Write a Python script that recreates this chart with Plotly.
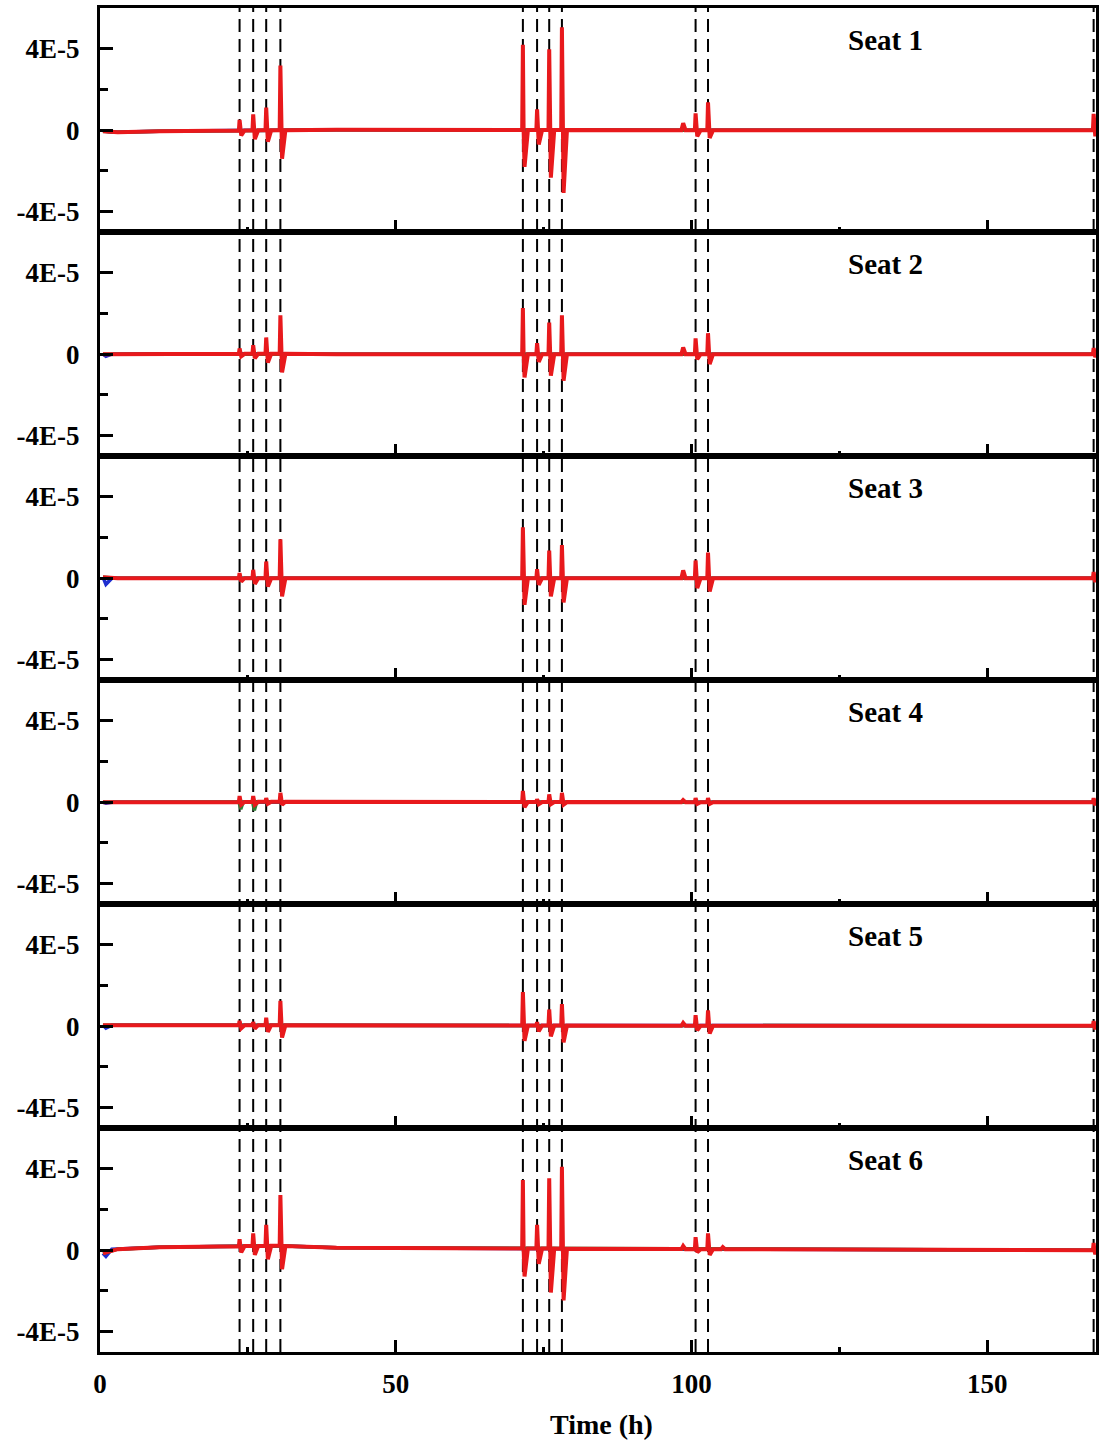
import numpy as np
import plotly.graph_objects as go
from plotly.subplots import make_subplots

# ---------------------------------------------------------------------------
# Data (amplitudes in units of 1E-5)
# ---------------------------------------------------------------------------
SEATS = ["Seat 1", "Seat 2", "Seat 3", "Seat 4", "Seat 5", "Seat 6"]

# loading events (h) – also marked with dashed vertical lines
EVENT_H = [23.6, 25.9, 28.1, 30.5, 71.5, 73.9, 75.95, 78.1, 100.7, 102.8, 168.0]

# positive peak / negative trough of the red signal at each event
SEAT1_PEAK = [0.50, 0.78, 1.11, 3.18, 4.20, 1.02, 3.97, 5.05, 0.83, 1.37, 0.80]
SEAT1_TROUGH = [-0.26, -0.44, -0.56, -1.40, -1.80, -0.70, -2.33, -3.08, -0.30, -0.38, -0.30]
SEAT2_PEAK = [0.28, 0.44, 0.82, 1.91, 2.27, 0.54, 1.55, 1.91, 0.78, 1.03, 0.30]
SEAT2_TROUGH = [-0.10, -0.20, -0.41, -0.90, -1.14, -0.38, -1.06, -1.30, -0.25, -0.49, -0.15]
SEAT3_PEAK = [0.25, 0.41, 0.82, 1.91, 2.50, 0.44, 1.36, 1.63, 0.87, 1.26, 0.30]
SEAT3_TROUGH = [-0.16, -0.28, -0.41, -0.90, -1.31, -0.33, -0.90, -1.19, -0.49, -0.65, -0.20]
SEAT4_PEAK = [0.30, 0.30, 0.20, 0.46, 0.55, 0.15, 0.38, 0.46, 0.20, 0.20, 0.20]
SEAT4_TROUGH = [-0.12, -0.12, -0.08, -0.12, -0.25, -0.10, -0.10, -0.12, -0.08, -0.08, -0.15]
SEAT5_PEAK = [0.26, 0.20, 0.42, 1.24, 1.68, 0.20, 0.82, 1.08, 0.54, 0.78, 0.25]
SEAT5_TROUGH = [-0.10, -0.12, -0.28, -0.56, -0.72, -0.25, -0.50, -0.80, -0.20, -0.36, -0.15]
SEAT6_PEAK = [0.54, 0.83, 1.24, 2.71, 3.45, 1.24, 3.53, 4.10, 0.64, 0.83, 0.35]
SEAT6_TROUGH = [-0.11, -0.23, -0.44, -0.93, -1.29, -0.67, -2.08, -2.47, -0.10, -0.23, -0.20]

# small isolated bumps between events (time h, amplitude)
BUMP_H = [98.6, 105.3]
SEAT1_BUMP = [0.34, 0.0]
SEAT2_BUMP = [0.33, 0.0]
SEAT3_BUMP = [0.38, 0.0]
SEAT4_BUMP = [0.10, 0.0]
SEAT5_BUMP = [0.16, 0.0]
SEAT6_BUMP = [0.21, 0.15]

# slow baseline drift of the signal
BASE_H = [0.5, 3.0, 10.0, 30.0, 40.0, 100.0, 168.4]
SEAT1_BASE = [-0.05, -0.10, -0.05, 0.00, 0.02, 0.00, 0.00]
SEAT2_BASE = [0.00, 0.00, 0.02, 0.02, 0.00, 0.00, 0.00]
SEAT3_BASE = [0.05, 0.00, 0.00, 0.00, 0.00, 0.00, 0.00]
SEAT4_BASE = [0.00, 0.00, 0.00, 0.02, 0.02, 0.00, 0.00]
SEAT5_BASE = [0.05, 0.05, 0.05, 0.05, 0.05, 0.02, 0.02]
SEAT6_BASE = [-0.15, 0.05, 0.15, 0.22, 0.12, 0.05, 0.00]

# secondary channels (mostly hidden under the red one)
BLUE_START = [-0.05, -0.10, -0.30, -0.05, -0.10, -0.30]
GREEN_SEAT4_DIP_H = [23.6, 25.9]
GREEN_SEAT4_DIP = [-0.34, -0.40]

UNIT = 1e-5
X_MAX = 168.4

PEAKS = [SEAT1_PEAK, SEAT2_PEAK, SEAT3_PEAK, SEAT4_PEAK, SEAT5_PEAK, SEAT6_PEAK]
TROUGHS = [SEAT1_TROUGH, SEAT2_TROUGH, SEAT3_TROUGH, SEAT4_TROUGH, SEAT5_TROUGH, SEAT6_TROUGH]
BUMPS = [SEAT1_BUMP, SEAT2_BUMP, SEAT3_BUMP, SEAT4_BUMP, SEAT5_BUMP, SEAT6_BUMP]
BASES = [SEAT1_BASE, SEAT2_BASE, SEAT3_BASE, SEAT4_BASE, SEAT5_BASE, SEAT6_BASE]


def build_signal(base, peaks, troughs, bumps):
    """Assemble a polyline: baseline drift plus a sharp up/down pulse per event."""
    pts = list(zip(BASE_H, base))
    for t, p, q in zip(EVENT_H, peaks, troughs):
        pts += [(t - 0.12, None), (t, p), (t + 0.12, None), (t + 0.28, q), (t + 0.85, None)]
    for t, a in zip(BUMP_H, bumps):
        if a:
            pts += [(t - 0.3, None), (t, a), (t + 0.4, None)]
    pts.sort(key=lambda v: v[0])
    xs = np.array([v[0] for v in pts])
    ys = np.array([np.interp(v[0], BASE_H, base) if v[1] is None else v[1] for v in pts])
    return xs, ys * UNIT


fig = make_subplots(rows=6, cols=1, shared_xaxes=True, vertical_spacing=0)

for i in range(6):
    row = i + 1
    base = BASES[i]
    # blue channel
    bx = [BASE_H[0], 1.0, 2.0] + BASE_H[2:]
    by = [base[0], BLUE_START[i], base[1]] + base[2:]
    fig.add_trace(go.Scatter(x=bx, y=np.array(by) * UNIT, mode="lines",
                             line=dict(color="#1f2fd0", width=3.5),
                             showlegend=False, hoverinfo="skip"), row=row, col=1)
    # green channel
    gx, gy = list(BASE_H), list(base)
    if i == 3:
        for t, d in zip(GREEN_SEAT4_DIP_H, GREEN_SEAT4_DIP):
            gx += [t - 0.1, t + 0.2, t + 0.6]
            gy += [np.interp(t - 0.1, BASE_H, base), d, np.interp(t + 0.6, BASE_H, base)]
    order = np.argsort(gx)
    fig.add_trace(go.Scatter(x=np.array(gx)[order], y=np.array(gy)[order] * UNIT, mode="lines",
                             line=dict(color="#2e7d32", width=3.5),
                             showlegend=False, hoverinfo="skip"), row=row, col=1)
    # red channel
    rx, ry = build_signal(base, PEAKS[i], TROUGHS[i], BUMPS[i])
    fig.add_trace(go.Scatter(x=rx, y=ry, mode="lines",
                             line=dict(color="#e8191c", width=4),
                             showlegend=False, hoverinfo="skip"), row=row, col=1)

FONT = "Liberation Serif, Times New Roman, serif"

for i in range(6):
    row = i + 1
    fig.update_yaxes(
        row=row, col=1, range=[-5 * UNIT, 6 * UNIT],
        tickmode="array", tickvals=[-4 * UNIT, 0, 4 * UNIT], ticktext=["-4E-5", "0", "4E-5"],
        ticks="inside", ticklen=13, tickwidth=3, tickcolor="black",
        minor=dict(tickmode="array", tickvals=[-2 * UNIT, 2 * UNIT], ticks="inside",
                   ticklen=8, tickwidth=3, tickcolor="black"),
        showline=True, linewidth=3, linecolor="black", mirror=True,
        showgrid=False, zeroline=False, ticklabelstandoff=12,
        tickfont=dict(family=FONT, size=27, color="black", weight="bold"),
    )
    fig.update_xaxes(
        row=row, col=1, range=[0, X_MAX],
        tickmode="array", tickvals=[0, 50, 100, 150],
        ticks="inside", ticklen=12, tickwidth=3, tickcolor="black",
        minor=dict(tickmode="array", tickvals=[25, 75, 125], ticks="inside",
                   ticklen=5, tickwidth=3, tickcolor="black"),
        showline=True, linewidth=3, linecolor="black", mirror=True,
        showgrid=False, zeroline=False,
        showticklabels=(row == 6), ticklabelstandoff=6,
        tickfont=dict(family=FONT, size=27, color="black", weight="bold"),
    )
    yref = "y domain" if row == 1 else f"y{row} domain"
    xref = "x domain" if row == 1 else f"x{row} domain"
    fig.add_annotation(text=SEATS[i], xref=xref, yref=yref, x=0.789, y=0.855,
                       xanchor="center", yanchor="middle", showarrow=False,
                       font=dict(family=FONT, size=29, color="black", weight="bold"))

# dashed event markers spanning every panel
for t in EVENT_H:
    fig.add_shape(type="line", xref="x6", yref="paper", x0=t, x1=t, y0=0, y1=1,
                  line=dict(color="black", width=2, dash="13px,7px"), layer="below")

fig.add_annotation(text="Time (h)", xref="paper", yref="paper", x=0.5035, y=-0.0543,
                   xanchor="center", yanchor="middle", showarrow=False,
                   font=dict(family=FONT, size=28, color="black", weight="bold"))

fig.update_layout(
    width=1101, height=1445,
    margin=dict(l=100, r=2, t=8, b=93),
    paper_bgcolor="white", plot_bgcolor="rgba(0,0,0,0)",
    showlegend=False,
)

fig.write_html("out.html")
